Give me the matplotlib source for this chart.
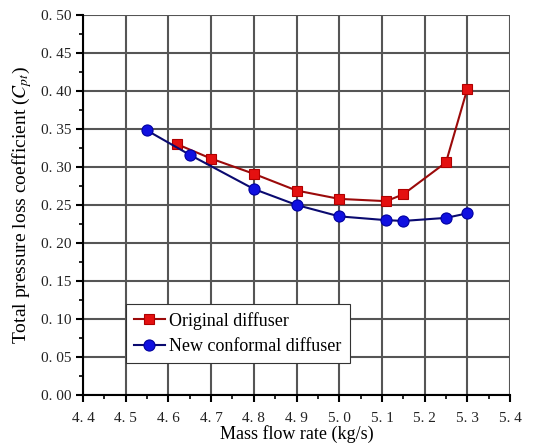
import matplotlib
matplotlib.use("Agg")
import matplotlib.pyplot as plt
from matplotlib.ticker import MultipleLocator, FuncFormatter

plt.rcParams['font.family'] = ['Liberation Serif', 'DejaVu Serif']
plt.rcParams['mathtext.fontset'] = 'stix'

# 数据
flow_original = [4.62, 4.70, 4.80, 4.90, 5.00, 5.11, 5.15, 5.25, 5.30]
cp_original = [0.330, 0.311, 0.291, 0.269, 0.258, 0.255, 0.264, 0.306, 0.403]

flow_new = [4.55, 4.65, 4.80, 4.90, 5.00, 5.11, 5.15, 5.25, 5.30]
cp_new = [0.348, 0.316, 0.271, 0.250, 0.235, 0.230, 0.229, 0.233, 0.239]

label_original = 'Original diffuser'
label_new = 'New conformal diffuser'

fig = plt.figure(figsize=(5.44, 4.45), dpi=100)
ax = fig.add_axes([0.1526, 0.1124, 0.785, 0.854])

ax.plot(flow_original, cp_original, color='#9b0a0a', lw=1.5,
        marker='s', ms=7, mfc='#e41010', mec='#b00000', mew=0.8,
        label=label_original, zorder=3)
ax.plot(flow_new, cp_new, color='#0a0a70', lw=1.5,
        marker='o', ms=8, mfc='#1010e0', mec='#0000a0', mew=0.8,
        label=label_new, zorder=3)

ax.set_xlim(4.4, 5.4)
ax.set_ylim(0.0, 0.5)
ax.xaxis.set_major_locator(MultipleLocator(0.1))
ax.xaxis.set_minor_locator(MultipleLocator(0.05))
ax.yaxis.set_major_locator(MultipleLocator(0.05))
ax.yaxis.set_minor_locator(MultipleLocator(0.025))

ax.xaxis.set_major_formatter(FuncFormatter(lambda v, p: f"{v:.1f}".replace('.', '. ')))
ax.yaxis.set_major_formatter(FuncFormatter(lambda v, p: f"{v:.2f}".replace('.', '. ')))

ax.grid(True, which='major', color='#555555', lw=1.5)
ax.set_axisbelow(True)

for side in ['top', 'right']:
    ax.spines[side].set_visible(False)
for side in ['left', 'bottom']:
    ax.spines[side].set_linewidth(1.5)
    ax.spines[side].set_color('black')

ax.tick_params(which='major', direction='out', length=5, width=1.5, labelsize=11, colors='black')
ax.tick_params(axis='x', which='major', pad=7)
ax.tick_params(which='minor', direction='out', length=3, width=1.2)
for lab in ax.get_xticklabels() + ax.get_yticklabels():
    lab.set_color('#222222')

ax.set_xlabel('Mass flow rate (kg/s)', fontsize=13, labelpad=0)
ax.set_ylabel(r'Total pressure loss coefficient ($C_{pt}$)', fontsize=14, labelpad=5)

leg = ax.legend(loc='lower left', bbox_to_anchor=(0.1, 0.084), fontsize=13,
                frameon=True, fancybox=False, edgecolor='#333333',
                framealpha=1, handlelength=1.7, handletextpad=0.25,
                borderpad=0.45, labelspacing=0.45, borderaxespad=0)
leg.get_frame().set_linewidth(0.8)

fig.savefig('out.png', dpi=100)
